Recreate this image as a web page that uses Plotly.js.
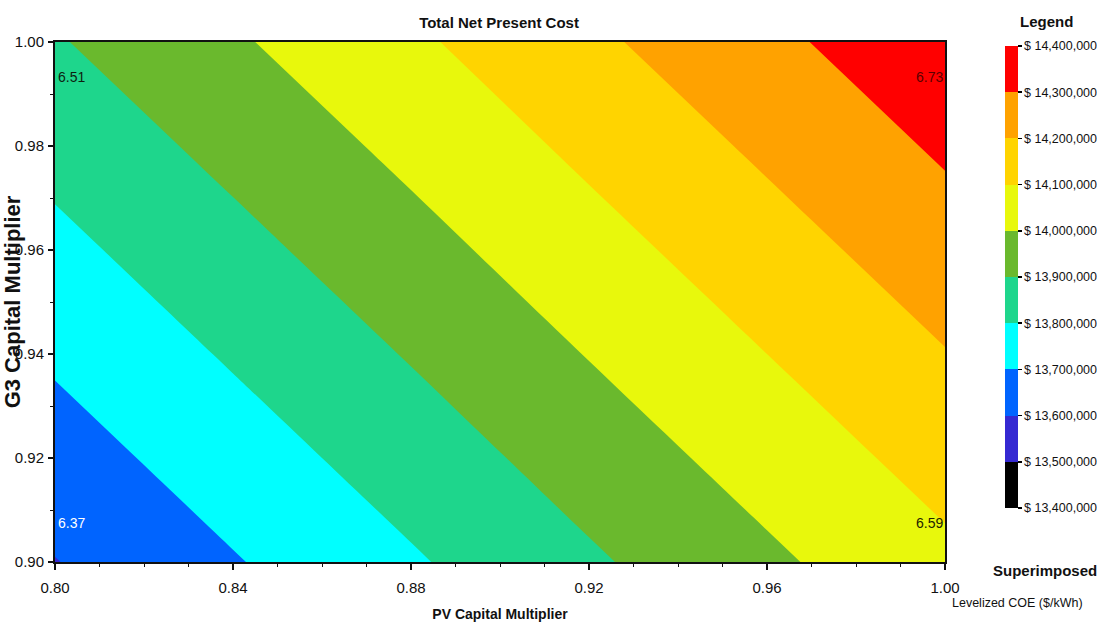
<!DOCTYPE html>
<html>
<head>
<meta charset="utf-8">
<script src="https://cdn.plot.ly/plotly-3.0.1.min.js"></script>
<style>
  html, body { margin: 0; padding: 0; background: #ffffff; }
  #chart { width: 1097px; height: 628px; }
</style>
</head>
<body>
<div id="chart"></div>
<script>
// ---- Data ----
// PV capital multiplier (x) and G3 capital multiplier (y) grid
var pvMultiplier = [0.80, 0.84, 0.88, 0.92, 0.96, 1.00];
var g3Multiplier = [0.90, 0.92, 0.94, 0.96, 0.98, 1.00];
// Total Net Present Cost ($), rows follow g3Multiplier, columns follow pvMultiplier
var totalNPC = [
  [13597000, 13693000, 13789000, 13886000, 13982000, 14078000],
  [13656000, 13752000, 13848000, 13945000, 14041000, 14137000],
  [13715000, 13811000, 13907000, 14004000, 14100000, 14196000],
  [13774000, 13870000, 13966000, 14063000, 14159000, 14255000],
  [13833000, 13929000, 14025000, 14122000, 14218000, 14314000],
  [13892000, 13988000, 14084000, 14181000, 14277000, 14373000]
];
// Legend levels ($)
var legendLevels = [13400000, 13500000, 13600000, 13700000, 13800000, 13900000,
                    14000000, 14100000, 14200000, 14300000, 14400000];
// Band colours, lowest to highest
var bandColors = ['#000000', '#3529d2', '#0064ff', '#00ffff', '#1ed68c',
                  '#6ab92d', '#e8f80c', '#ffd400', '#ffa200', '#ff0000'];
// Superimposed levelized COE ($/kWh) at plot corners
var coeX = [0.80, 0.80, 1.00, 1.00];
var coeY = [1.00, 0.90, 0.90, 1.00];
var coeText = ['6.51', '6.37', '6.59', '6.73'];
var coeColor = ['#0d1f10', '#ffffff', '#222200', '#5a0000'];
var xTicks = [0.80, 0.84, 0.88, 0.92, 0.96, 1.00];
var yTicks = [0.90, 0.92, 0.94, 0.96, 0.98, 1.00];

// ---- Colour scales built from the band colours ----
// Contour fill samples the scale at 12 points (below-first band .. above-last band)
var fillColors = [bandColors[0]].concat(bandColors).concat([bandColors[bandColors.length - 1]]);
var nF = fillColors.length - 1; // 11
var contourScale = [];
fillColors.forEach(function (c, j) {
  var a = Math.max(0, (j - 0.5) / nF), b = Math.min(1, (j + 0.5) / nF);
  contourScale.push([a, c]); contourScale.push([b, c]);
});
var legendScale = [];
bandColors.forEach(function (c, i) {
  legendScale.push([i / bandColors.length, c]);
  legendScale.push([(i + 1) / bandColors.length, c]);
});
var legendText = legendLevels.map(function (v) {
  return '$ ' + String(v).replace(/\B(?=(\d{3})+(?!\d))/g, ',');
});

var FONT = '"Liberation Sans", Arial, sans-serif';

var contour = {
  type: 'contour',
  x: pvMultiplier,
  y: g3Multiplier,
  z: totalNPC,
  autocontour: false,
  contours: { start: legendLevels[0], end: legendLevels[legendLevels.length - 1],
              size: legendLevels[1] - legendLevels[0], coloring: 'fill', showlines: false },
  line: { width: 0 },
  colorscale: contourScale,
  showscale: false,
  hoverinfo: 'skip'
};

var legendTrace = {
  type: 'scatter',
  mode: 'markers',
  x: [null], y: [null],
  showlegend: false,
  hoverinfo: 'skip',
  marker: {
    color: [legendLevels[0]],
    cmin: legendLevels[0],
    cmax: legendLevels[legendLevels.length - 1],
    colorscale: legendScale,
    showscale: true,
    colorbar: {
      x: 1.0674, xanchor: 'left', xref: 'paper',
      y: 0.548, yanchor: 'middle', yref: 'paper',
      len: 462, lenmode: 'pixels',
      thickness: 13, thicknessmode: 'pixels',
      xpad: 0, ypad: 0, outlinewidth: 0,
      ticks: 'outside', ticklen: 4, tickwidth: 1.5, tickcolor: '#000',
      tickmode: 'array', tickvals: legendLevels, ticktext: legendText,
      tickfont: { family: FONT, size: 12.5, color: '#111' }
    }
  }
};

var annotations = coeText.map(function (t, i) {
  var right = coeX[i] === 1.00;
  var top = coeY[i] === 1.00;
  return {
    x: coeX[i], y: coeY[i], xref: 'x', yref: 'y',
    text: t, showarrow: false,
    xanchor: right ? 'right' : 'left', yanchor: 'middle',
    xshift: right ? 0 : 1, yshift: top ? -35 : 39,
    font: { family: FONT, size: 14, color: coeColor[i] }
  };
});
annotations.push({ text: 'Legend', xref: 'paper', yref: 'paper', x: 1.1146, y: 1.0385,
  xanchor: 'center', yanchor: 'middle', showarrow: false,
  font: { family: FONT, size: 15, color: '#111', weight: 'bold' } });
annotations.push({ text: 'Superimposed', xref: 'paper', yref: 'paper', x: 1.1124, y: -0.0154,
  xanchor: 'center', yanchor: 'middle', showarrow: false,
  font: { family: FONT, size: 15, color: '#111', weight: 'bold' } });
annotations.push({ text: 'Levelized COE ($/kWh)', xref: 'paper', yref: 'paper', x: 1.0809, y: -0.079,
  xanchor: 'center', yanchor: 'middle', showarrow: false,
  font: { family: FONT, size: 12.5, color: '#111' } });

var layout = {
  width: 1097, height: 628,
  margin: { l: 55, r: 152, t: 42, b: 66, pad: 0, autoexpand: false },
  paper_bgcolor: '#ffffff', plot_bgcolor: '#ffffff',
  font: { family: FONT, color: '#111' },
  showlegend: false,
  title: { text: 'Total Net Present Cost', x: 0.4989, xref: 'paper', xanchor: 'center',
           y: 0.963, yanchor: 'middle',
           font: { family: FONT, size: 15, color: '#111', weight: 'bold' } },
  xaxis: {
    range: [0.80, 1.00], tickvals: xTicks, tickformat: '.2f',
    showgrid: false, zeroline: false,
    showline: true, linecolor: '#111', linewidth: 2, mirror: true,
    ticks: 'outside', ticklen: 6, tickwidth: 1.5, tickcolor: '#111',
    ticklabelstandoff: 5,
    minor: { dtick: 0.01, ticks: 'outside', ticklen: 3, tickwidth: 1, tickcolor: '#111', showgrid: false },
    tickfont: { family: FONT, size: 15, color: '#111' },
    title: { text: 'PV Capital Multiplier', standoff: 14,
             font: { family: FONT, size: 14, color: '#111', weight: 'bold' } }
  },
  yaxis: {
    range: [0.90, 1.00], tickvals: yTicks, tickformat: '.2f',
    showgrid: false, zeroline: false,
    showline: true, linecolor: '#111', linewidth: 2, mirror: true,
    ticks: 'outside', ticklen: 5, tickwidth: 1.5, tickcolor: '#111',
    ticklabelstandoff: 1,
    minor: { dtick: 0.01, ticks: 'outside', ticklen: 3, tickwidth: 1, tickcolor: '#111', showgrid: false },
    tickfont: { family: FONT, size: 15, color: '#111' },
    title: { text: 'G3 Capital Multiplier', standoff: 4,
             font: { family: FONT, size: 22, color: '#111', weight: 'bold' } }
  },
  annotations: annotations
};

Plotly.newPlot('chart', [contour, legendTrace], layout, { displayModeBar: false, staticPlot: true });
</script>
</body>
</html>
